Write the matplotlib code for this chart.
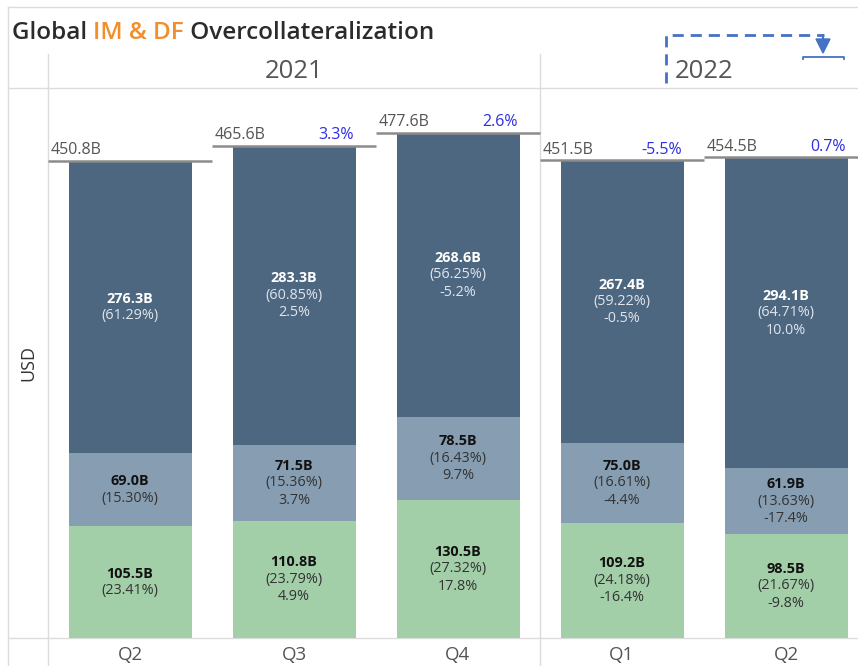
import numpy as np
import matplotlib
matplotlib.use("Agg")
import matplotlib.pyplot as plt
from matplotlib.patches import Polygon

# Podatki
quarters = ['Q2', 'Q3', 'Q4', 'Q1', 'Q2']
years = ['2021', '2022']
year_counts = [3, 2]
totals = [450.8, 465.6, 477.6, 451.5, 454.5]
total_chg = [np.nan, 3.3, 2.6, -5.5, 0.7]

green_vals = [105.5, 110.8, 130.5, 109.2, 98.5]
green_pct = [23.41, 23.79, 27.32, 24.18, 21.67]
green_chg = [np.nan, 4.9, 17.8, -16.4, -9.8]

mid_vals = [69.0, 71.5, 78.5, 75.0, 61.9]
mid_pct = [15.30, 15.36, 16.43, 16.61, 13.63]
mid_chg = [np.nan, 3.7, 9.7, -4.4, -17.4]

dark_vals = [276.3, 283.3, 268.6, 267.4, 294.1]
dark_pct = [61.29, 60.85, 56.25, 59.22, 64.71]
dark_chg = [np.nan, 2.5, -5.2, -0.5, 10.0]

W, H = 858, 666
FONT = 'Open Sans'
GRID = '#dcdcdc'

fig = plt.figure(figsize=(W / 100, H / 100), dpi=100)

# ozadje v pikslih za okvir, naslov in ikono
bg = fig.add_axes([0, 0, 1, 1])
bg.set_xlim(0, W)
bg.set_ylim(H, 0)
bg.axis('off')

# glavni graf: celice po 164 px, od x=48, y od 88 do 638
ax = fig.add_axes([48 / W, (H - 638) / H, 820 / W, 550 / H])
ax.set_xlim(0, 5)
ax.set_ylim(0, 520)
for s in ax.spines.values():
    s.set_visible(False)
ax.set_yticks([])
ax.patch.set_alpha(0)

x = np.arange(len(quarters)) + 0.5
bw = 0.75
c_green, c_mid, c_dark = '#a2cea8', '#879eb2', '#4e6780'

ax.bar(x, green_vals, bw, color=c_green, zorder=2)
ax.bar(x, mid_vals, bw, bottom=green_vals, color=c_mid, zorder=2)
ax.bar(x, dark_vals, bw, bottom=np.array(green_vals) + np.array(mid_vals), color=c_dark, zorder=2)

ax.set_xticks(x)
ax.set_xticklabels(quarters, fontsize=13.5, color='#555555', family=FONT)
ax.tick_params(axis='x', length=0, pad=6)


def seg_labels(xi, bottom, val, pct, chg, dark):
    cy = bottom + val / 2
    lines = [(f'{val:.1f}B', 'bold'), (f'({pct:.2f}%)', 'normal')]
    if not np.isnan(chg):
        lines.append((f'{chg:.1f}%', 'normal'))
    n = len(lines)
    step = 12.4  # pt
    for k, (txt, wt) in enumerate(lines):
        off = ((n - 1) / 2 - k) * step
        if dark:
            col = 'white' if wt == 'bold' else '#dfe5ec'
        else:
            col = '#111111' if wt == 'bold' else '#333333'
        ax.annotate(txt, (xi, cy), xytext=(0, off), textcoords='offset points',
                    ha='center', va='center', fontsize=10.4, fontweight=wt,
                    color=col, family=FONT, zorder=3)


for i in range(len(x)):
    b0 = 0
    seg_labels(x[i], b0, green_vals[i], green_pct[i], green_chg[i], False)
    b1 = green_vals[i]
    seg_labels(x[i], b1, mid_vals[i], mid_pct[i], mid_chg[i], False)
    b2 = b1 + mid_vals[i]
    seg_labels(x[i], b2, dark_vals[i], dark_pct[i], dark_chg[i], True)

    # skupna vrednost nad stolpcem
    ax.plot([i, i + 1], [totals[i], totals[i]], color='#8c8c8c', lw=1.8, zorder=3,
            solid_capstyle='butt')
    ax.annotate(f'{totals[i]:.1f}B', (i, totals[i]), xytext=(2, 2), textcoords='offset points',
                ha='left', va='bottom', fontsize=11.5, color='#555555', family=FONT)
    if not np.isnan(total_chg[i]):
        ax.annotate(f'{total_chg[i]:.1f}%', (x[i] + bw / 2, totals[i]), xytext=(-1, 2),
                    textcoords='offset points', ha='right', va='bottom', fontsize=11.5,
                    color='#2d2de6', family=FONT)

# okvir in mreža
bg.plot([8, W], [7, 7], color=GRID, lw=1)
bg.plot([8, 8], [7, H], color=GRID, lw=1)
bg.plot([8, W], [88, 88], color=GRID, lw=1)
bg.plot([8, W], [638, 638], color=GRID, lw=1)
bg.plot([48, 48], [54, H], color=GRID, lw=1)
bg.plot([540, 540], [54, H], color=GRID, lw=1)

# glave let
start = 0
for yr, n in zip(years, year_counts):
    cx = 48 + (start + n / 2) * 164
    bg.text(cx, 72, yr, ha='center', va='center', fontsize=18.5, color='#555555', family=FONT)
    start += n

bg.text(28, 363, 'USD', rotation=90, ha='center', va='center', fontsize=13,
        color='#333333', family=FONT)

# naslov v treh barvah
parts = [('Global ', '#2b2b2b'), ('IM & DF', '#f28e2b'), (' Overcollateralization', '#2b2b2b')]
fig.canvas.draw()
r = fig.canvas.get_renderer()
tx = 12
for txt, col in parts:
    t = bg.text(tx, 39, txt, ha='left', va='baseline', fontsize=17.5, fontweight='semibold',
                color=col, family=FONT)
    bb = t.get_window_extent(renderer=r)
    tx += bb.width

# ikona (modra črtkana puščica)
blue = '#4472c4'
bg.plot([666, 666, 824], [83, 35, 35], color=blue, lw=2, ls=(0, (4, 2.5)))
bg.add_patch(Polygon([[816, 39], [830, 39], [823, 53]], closed=True, color=blue))
bg.plot([823, 823], [35, 40], color=blue, lw=1.5)
bg.plot([803, 803, 844, 844], [59, 57, 57, 59], color=blue, lw=1.3)

plt.savefig('out.png', dpi=100)
